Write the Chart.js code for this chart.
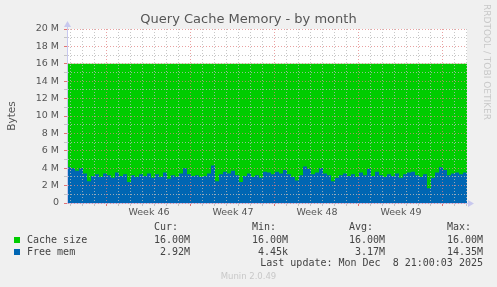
<!DOCTYPE html>
<html>
<head>
<meta charset="utf-8">
<script src="https://cdn.jsdelivr.net/npm/chart.js@4/dist/chart.umd.min.js"></script>
<style>
  html, body { margin: 0; padding: 0; background: #f0f0f0; }
  #wrap { position: relative; width: 497px; height: 287px; overflow: hidden; }
  canvas { position: absolute; left: 0; top: 0; }
  .t { position: absolute; white-space: pre; }
  .mono { font: 10px "DejaVu Sans Mono", monospace; color: #444; line-height: 12px; }
  .sq { position: absolute; width: 6px; height: 6px; }
</style>
</head>
<body>
<div id="wrap">
  <canvas id="graph" width="497" height="287"></canvas>

  <div class="t" style="left:0;width:497px;top:11px;text-align:center;font:13px 'DejaVu Sans';color:#555;">Query Cache Memory - by month</div>
  <div class="t" style="left:-10px;top:110px;width:42px;text-align:center;font:10.5px 'DejaVu Sans';color:#555;transform:rotate(-90deg);">Bytes</div>
  <div class="t" style="left:482px;top:4px;writing-mode:vertical-rl;font:9px 'DejaVu Sans';color:#c8c8c8;">RRDTOOL / TOBI OETIKER</div>

  <div class="t mono" style="left:154px;top:221px;">Cur:</div>
  <div class="t mono" style="left:252px;top:221px;">Min:</div>
  <div class="t mono" style="left:349px;top:221px;">Avg:</div>
  <div class="t mono" style="left:447px;top:221px;">Max:</div>

  <div class="sq" style="left:14px;top:237px;background:#00cc00;"></div>
  <div class="t mono" style="left:27px;top:234px;">Cache size</div>
  <div class="t mono" id="c0" style="right:307px;top:234px;"></div>
  <div class="t mono" id="c1" style="right:209px;top:234px;"></div>
  <div class="t mono" id="c2" style="right:112px;top:234px;"></div>
  <div class="t mono" id="c3" style="right:14px;top:234px;"></div>

  <div class="sq" style="left:14px;top:249px;background:#0066b3;"></div>
  <div class="t mono" style="left:27px;top:246px;">Free mem</div>
  <div class="t mono" id="f0" style="right:307px;top:246px;"></div>
  <div class="t mono" id="f1" style="right:209px;top:246px;"></div>
  <div class="t mono" id="f2" style="right:112px;top:246px;"></div>
  <div class="t mono" id="f3" style="right:14px;top:246px;"></div>

  <div class="t mono" style="right:14px;top:257px;">Last update: Mon Dec  8 21:00:03 2025</div>
  <div class="t" style="left:0;width:497px;top:271px;text-align:center;font:8.5px 'DejaVu Sans';color:#c8c8c8;">Munin 2.0.49</div>
</div>

<script>
// values in millions of bytes, one sample every 8 hours (1/3 day)
var cacheSize = 16.0;
var freeMem = [
  4.1, 4.0, 3.7, 4.0, 3.4, 2.5, 3.1, 3.3, 3.0, 3.4,
  3.2, 2.9, 3.5, 3.1, 3.3, 2.4, 3.2, 3.0, 3.3, 3.1,
  3.4, 2.9, 3.3, 3.0, 3.5, 2.8, 3.2, 3.0, 3.4, 4.0,
  3.3, 3.1, 3.2, 3.0, 3.1, 3.4, 4.3, 2.5, 3.3, 3.6,
  3.4, 3.7, 3.2, 2.4, 3.1, 3.4, 3.0, 3.2, 2.9, 3.6,
  3.5, 3.3, 3.6, 3.4, 3.8, 3.3, 3.0, 2.6, 3.2, 4.2,
  3.9, 3.3, 3.5, 4.0, 3.4, 3.2, 2.5, 2.9, 3.2, 3.4,
  3.1, 3.3, 3.0, 3.5, 3.2, 3.9, 3.1, 3.6, 3.2, 3.0,
  3.3, 3.1, 3.4, 2.9, 3.3, 3.5, 3.6, 3.2, 3.0, 3.3,
  1.7, 2.9, 3.5, 4.1, 3.8, 3.2, 3.4, 3.5, 3.3, 3.5,
  3.0
];
var weekLabels = ['Week 46', 'Week 47', 'Week 48', 'Week 49'];
var weekStarts = [3.333, 10.333, 17.333, 24.333, 31.333];   // days from left edge
var firstDayLine = 0.333;
var yTicks = [0,1,2,3,4,5,6,7,8,9,10,11,12,13,14,15,16,17,18,19,20];

var cacheStats = ['16.00M', '16.00M', '16.00M', '16.00M'];
var freeStats  = ['2.92M', '4.45k', '3.17M', '14.35M'];

for (var i = 0; i < 4; i++) {
  document.getElementById('c' + i).textContent = cacheStats[i];
  document.getElementById('f' + i).textContent = freeStats[i];
}

var STEP = 1 / 3;
var span = (freeMem.length - 1) * STEP;
var freePts = freeMem.map(function (v, i) { return { x: i * STEP, y: v }; });
var cachePts = freeMem.map(function (v, i) { return { x: i * STEP, y: cacheSize }; });

function near(a, b) { return Math.abs(a - b) < 0.01; }
function isWeek(v) { return weekStarts.some(function (w) { return near(v, w); }); }
function weekLabelAt(v) {
  for (var i = 0; i < weekLabels.length; i++) {
    if (near(v, weekStarts[i] + 3.5)) return weekLabels[i];
  }
  return null;
}

var xTickVals = [];
for (var d = firstDayLine; d < span; d += 1) xTickVals.push(d);
weekLabels.forEach(function (l, i) { xTickVals.push(weekStarts[i] + 3.5); });

var MAJOR = 'rgba(225,130,130,0.75)';
var MINOR = 'rgba(185,185,185,0.8)';
var AXIS = '#c8c8ee';

var arrows = {
  id: 'arrows',
  beforeDraw: function (c) {
    var a = c.chartArea, g = c.ctx;
    g.save();
    g.fillStyle = '#ffffff';
    g.fillRect(a.left, a.top, a.right - a.left, a.bottom - a.top);
    g.restore();
  },
  afterDraw: function (c) {
    var a = c.chartArea, g = c.ctx;
    g.save();
    g.fillStyle = AXIS;
    g.strokeStyle = AXIS;
    g.lineWidth = 1;
    g.beginPath();
    g.moveTo(a.left + 0.5, a.top); g.lineTo(a.left + 0.5, a.top - 3);
    g.moveTo(a.right, a.bottom + 0.5); g.lineTo(a.right + 3, a.bottom + 0.5);
    g.stroke();
    g.beginPath();
    g.moveTo(a.left + 0.5, a.top - 8); g.lineTo(a.left - 3, a.top - 2); g.lineTo(a.left + 4, a.top - 2);
    g.closePath(); g.fill();
    g.beginPath();
    g.moveTo(a.right + 7, a.bottom + 0.5); g.lineTo(a.right + 1, a.bottom - 3); g.lineTo(a.right + 1, a.bottom + 4);
    g.closePath(); g.fill();
    g.restore();
  }
};

var font = { family: 'DejaVu Sans', size: 9.5 };

new Chart(document.getElementById('graph'), {
  type: 'line',
  data: {
    datasets: [
      { label: 'Free mem', data: freePts, stepped: true, fill: 'origin',
        backgroundColor: '#0066b3', borderColor: 'rgba(0,0,0,0)', borderWidth: 0, pointRadius: 0 },
      { label: 'Cache size', data: cachePts, fill: 'origin',
        backgroundColor: '#00cc00', borderColor: 'rgba(0,0,0,0)', borderWidth: 0, pointRadius: 0 }
    ]
  },
  options: {
    responsive: false,
    animation: false,
    events: [],
    layout: { padding: { left: 7, top: 29, right: 30, bottom: 64 } },
    plugins: { legend: { display: false }, tooltip: { enabled: false }, title: { display: false } },
    scales: {
      x: {
        type: 'linear', min: 0, max: span,
        afterBuildTicks: function (s) { s.ticks = xTickVals.map(function (v) { return { value: v }; }); },
        afterFit: function (s) { s.height = 20; },
        ticks: {
          autoSkip: false, maxRotation: 0, padding: 1, color: '#555', font: font,
          callback: function (v) { return weekLabelAt(v) || ''; }
        },
        grid: {
          z: 1,
          tickLength: 3,
          color: function (ctx) {
            var v = ctx.tick ? ctx.tick.value : 0;
            if (weekLabelAt(v)) return 'rgba(0,0,0,0)';
            return isWeek(v) ? MAJOR : MINOR;
          },
          tickColor: function (ctx) {
            var v = ctx.tick ? ctx.tick.value : 0;
            if (weekLabelAt(v)) return 'rgba(0,0,0,0)';
            return isWeek(v) ? 'rgba(225,100,100,0.9)' : MINOR;
          }
        },
        border: { z: 1, color: AXIS, dash: [1, 2] }
      },
      y: {
        min: 0, max: 20,
        afterBuildTicks: function (s) { s.ticks = yTicks.map(function (v) { return { value: v }; }); },
        afterFit: function (s) { s.width = 60; },
        ticks: {
          autoSkip: false, padding: 5, color: '#555', font: font,
          callback: function (v) { return v % 2 === 0 ? (v === 0 ? '0' : v + ' M') : ''; }
        },
        grid: {
          z: 1,
          tickLength: 3,
          color: function (ctx) {
            var v = ctx.tick ? ctx.tick.value : 0;
            return v % 2 === 0 ? MAJOR : MINOR;
          },
          tickColor: function (ctx) {
            var v = ctx.tick ? ctx.tick.value : 0;
            return v % 2 === 0 ? 'rgba(225,100,100,0.9)' : MINOR;
          }
        },
        border: { z: 1, color: AXIS, dash: [1, 2] }
      }
    }
  },
  plugins: [arrows]
});
</script>
</body>
</html>
